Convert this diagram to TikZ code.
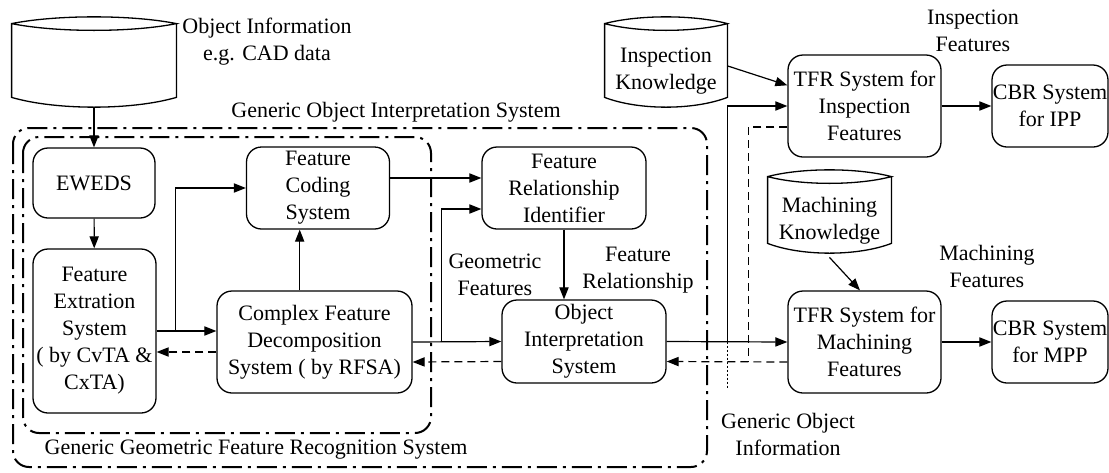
\documentclass[tikz,border=0pt]{standalone}
\usepackage{fontspec}
\setmainfont{Liberation Serif}
\usepackage{tikz}
\usetikzlibrary{arrows.meta, positioning, calc}

% stored-data symbol drawn round a node: lens top, bowed bottom
\newcommand{\dbdraw}[2]{%
  \draw[dbline] (#1.north west) .. controls +(#2,-9) and +(-#2,-9) .. (#1.north east)
        .. controls +(-#2,9) and +(#2,9) .. (#1.north west)
        -- (#1.south west) .. controls +(#2,13) and +(-#2,13) .. (#1.south east)
        -- (#1.north east);}

\begin{document}
\begin{tikzpicture}[
  x=0.5pt, y=-0.5pt,
  every node/.style={font=\fontsize{11}{13.5}\selectfont},
  blk/.style ={draw, rounded corners=7.5pt, align=center, inner sep=0pt,
               line width=0.65pt},
  db/.style  ={inner sep=0pt, align=center},
  dbline/.style={line width=0.65pt},
  lab/.style ={align=center, inner sep=0pt},
  arr/.style ={-{Triangle[length=6pt,width=4.6pt]}, line width=0.6pt},
  darr/.style={arr, dash pattern=on 4pt off 2.5pt},
  dline/.style={line width=0.6pt, dash pattern=on 4pt off 2.5pt},
  dotline/.style={line width=0.6pt, dash pattern=on 1pt off 1pt},
  grp/.style ={line width=1pt, rounded corners=8pt,
               dash pattern=on 10pt off 3pt on 1.5pt off 3pt}
]
\useasboundingbox (0,0) rectangle (1109,472);

%% ─── groups ────────────────────────────────────────────────────────────────
\draw[grp] (13,128) rectangle (707,467);
\draw[grp] (23,137) rectangle (431,433);
\node[lab] (goi_t) at (396,112) {Generic Object Interpretation System};
\node[lab] (ggf_t) at (256,450) {Generic Geometric Feature Recognition System};

%% ─── data stores ───────────────────────────────────────────────────────────
\node[db, minimum width=82pt, minimum height=36.5pt] (objinfo) at (94,60.5) {};
\node[db, minimum width=61pt, minimum height=36.5pt] (insk) at (666,60.5) {};
\node[db, minimum width=61.5pt, minimum height=33pt] (mack) at (829.5,210) {};
\dbdraw{objinfo}{45}
\dbdraw{insk}{34}
\dbdraw{mack}{34}
\node[lab] (insk_t) at (666,71)  {Inspection\\Knowledge};
\node[lab] (mack_t) at (829.5,221) {Machining\\Knowledge};
\node[lab] (obj_t)  at (267,42)  {Object Information\\e.g. CAD data};

%% ─── systems ───────────────────────────────────────────────────────────────
\node[blk, minimum width=61pt,   minimum height=35pt]   (ewe)  at (94,183)    {EWEDS};
\node[blk, minimum width=61.5pt, minimum height=82pt]   (fext) at (94.5,331)  {Feature\\Extration\\System\\( by CvTA \&\\CxTA)};
\node[blk, minimum width=71.5pt, minimum height=41pt]   (fcod) at (318,188)   {Feature\\Coding\\System};
\node[blk, minimum width=97.5pt, minimum height=51pt]   (cfd)  at (314.5,342) {Complex Feature\\Decomposition\\System ( by RFSA)};
\node[blk, minimum width=82pt,   minimum height=41pt]   (fri)  at (564,188)   {Feature\\Relationship\\Identifier};
\node[blk, minimum width=82pt,   minimum height=41.5pt] (oint) at (584,341.5) {Object\\Interpretation\\System};
\node[blk, minimum width=76.5pt, minimum height=51pt]   (tfri) at (864.5,106) {TFR System for\\Inspection\\Features};
\node[blk, minimum width=76.5pt, minimum height=51pt]   (tfrm) at (864.5,342) {TFR System for\\Machining\\Features};
\node[blk, minimum width=58pt,   minimum height=41pt]   (cbri) at (1050,106)  {CBR System\\for IPP};
\node[blk, minimum width=58pt,   minimum height=41pt]   (cbrm) at (1050,342)  {CBR System\\for MPP};

%% ─── labels ────────────────────────────────────────────────────────────────
\node[lab] (geo_t) at (495,275) {Geometric\\Features};
\node[lab] (rel_t) at (638,270) {Feature\\Relationship};
\node[lab] (ins_t) at (973,31)  {Inspection\\Features};
\node[lab] (mac_t) at (987,266) {Machining\\Features};
\node[lab] (gen_t) at (788,434) {Generic Object\\Information};

%% ─── connectors ────────────────────────────────────────────────────────────
\draw[arr] ($(objinfo.south)+(0,10)$) -- (ewe.north);
\draw[arr] (ewe) -- (fext);
\draw[arr] (fext.east) -- (fext.east -| cfd.west);
\draw[arr] ($(fext.east)+(19,0)$) |- (fcod.west);
\draw[darr] ($(cfd.west)+(0,10)$) -- ($(fext.east |- cfd.west)+(0,10)$);
\draw[arr] (cfd.106) -- (cfd.106 |- fcod.south);
\draw[arr] ($(fcod.east)+(0,-10)$) -- ($(fri.west)+(0,-10)$);
\draw[arr] (cfd.east) -- (oint.west);
\draw[arr] ($(cfd.east)+(29,0)$) |- ($(fri.west)+(0,21)$);
\draw[darr] ($(oint.west)+(0,20)$) -- ($(cfd.east)+(0,20)$);
\draw[arr] (fri.south) -- (fri.south |- oint.north);
\draw[arr] (oint.east) -- (tfrm.west);
\draw[arr] ($(oint.east)+(61,0)$) |- (tfri.west);
\draw[dotline] ($(oint.east)+(61,0)$) -- ++(0,48);
\draw[darr] ($(tfrm.west)+(0,20)$) -- ($(oint.east)+(0,20)$);
\draw[dline] ($(tfri.west)+(0,21)$) -| ($(oint.east)+(82,20)$);
\draw[arr] (insk.-5) -- (tfri.165);
\draw[arr] ($(mack.south)+(0,14)$) -- (tfrm.95);
\draw[arr] (tfri) -- (cbri);
\draw[arr] (tfrm) -- (cbrm);

\end{tikzpicture}
\end{document}
